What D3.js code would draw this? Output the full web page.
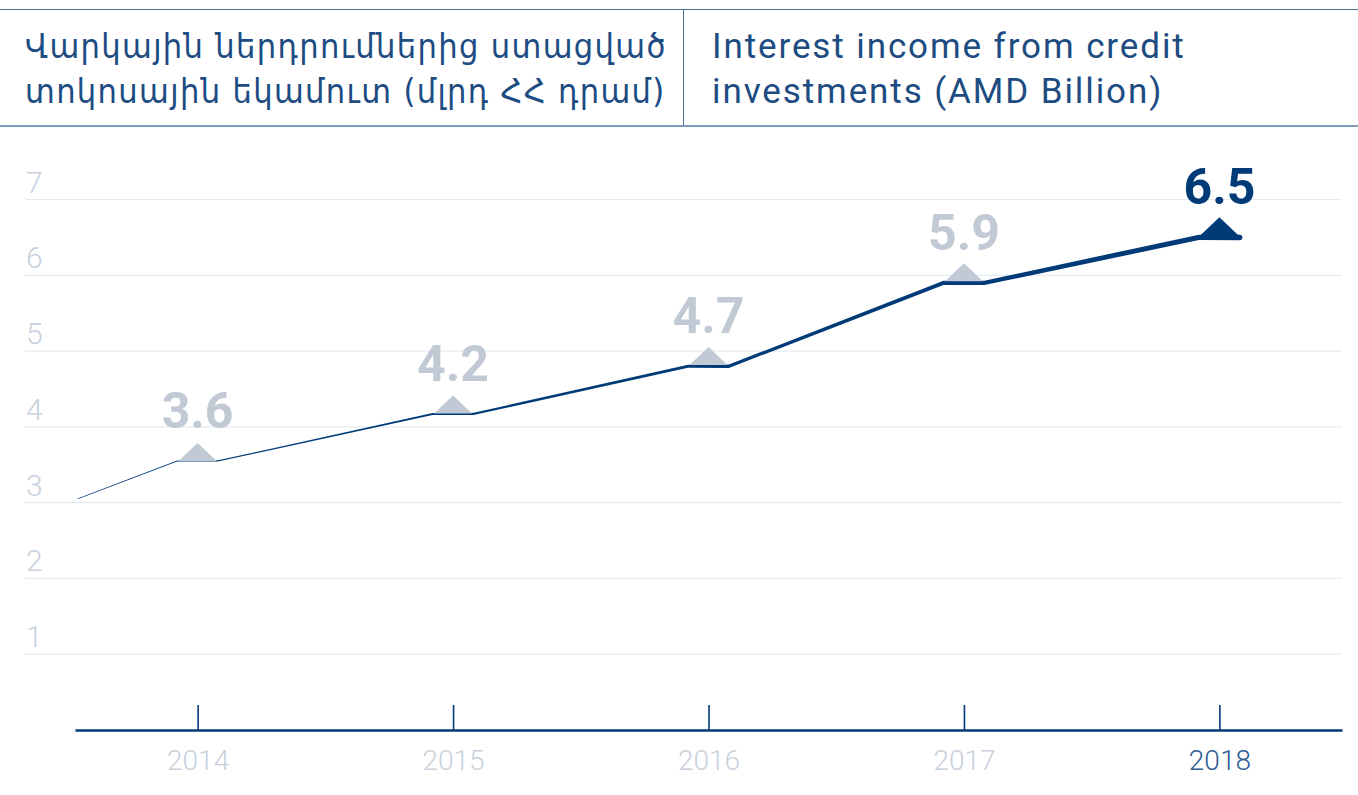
<!DOCTYPE html>
<html>
<head>
  <meta charset="utf-8">
  <title>Interest income from credit investments</title>
  <script src="https://d3js.org/d3.v7.min.js"></script>
  <style>
  body {
    margin: 0;
    background: #ffffff;
    font-family: Roboto, "DejaVu Sans", sans-serif;
  }
  .title-hy {
    font-family: "DejaVu Sans Condensed", "DejaVu Sans", sans-serif;
    fill: #1d4c82;
    letter-spacing: 1.35px;
  }
  .title-en {
    font-family: Roboto, sans-serif;
    fill: #1d4c82;
    letter-spacing: 1.9px;
  }
</style>
</head>
<body>
  <div id="chart"></div>
  <script>
    // data
    var years = [2014, 2015, 2016, 2017, 2018];
    var values = [3.55, 4.17, 4.8, 5.9, 6.5];          // where the line is drawn
    var valueLabels = ["3.6", "4.2", "4.7", "5.9", "6.5"]; // what is printed
    var leadIn = [2013.53, 3.05];   // where the line comes in from the left edge
    var yTicks = [1, 2, 3, 4, 5, 6, 7];
    var titleHy = ["Վարկային ներդրումներից ստացված", "տոկոսային եկամուտ (մլրդ ՀՀ դրամ)"];
    var titleEn = ["Interest income from credit", "investments (AMD Billion)"];

    var width = 1358, height = 795;
    var dark = "#003b78", grey = "#c0c9d4";

    var svg = d3.select("#chart").append("svg")
      .attr("width", width)
      .attr("height", height);

    // header
    svg.append("line").attr("x1", 0).attr("x2", width).attr("y1", 9.5).attr("y2", 9.5)
      .attr("stroke", "#4b6e95").attr("stroke-width", 1);
    svg.append("line").attr("x1", 0).attr("x2", width).attr("y1", 126).attr("y2", 126)
      .attr("stroke", "#7f9bbb").attr("stroke-width", 2);
    svg.append("line").attr("x1", 683.5).attr("x2", 683.5).attr("y1", 9).attr("y2", 125)
      .attr("stroke", "#4b6e95").attr("stroke-width", 1);

    svg.selectAll("text.title-hy").data(titleHy).enter().append("text")
      .attr("class", "title-hy")
      .attr("x", 25)
      .attr("y", function(d, i) { return 58 + i * 45; })
      .style("font-size", "34px")
      .text(function(d) { return d; });

    svg.selectAll("text.title-en").data(titleEn).enter().append("text")
      .attr("class", "title-en")
      .attr("x", 712)
      .attr("y", function(d, i) { return 58 + i * 45; })
      .style("font-size", "35px")
      .text(function(d) { return d; });

    // scales
    var x = d3.scaleLinear().domain([2013.52, 2018.48]).range([75, 1342]);
    var y = d3.scaleLinear().domain([0, 7]).range([730, 199.5]);

    // grid
    svg.append("g").selectAll("line").data(yTicks).enter().append("line")
      .attr("x1", 25).attr("x2", 1342)
      .attr("y1", function(d) { return y(d); })
      .attr("y2", function(d) { return y(d); })
      .attr("stroke", "#e6ebf1").attr("stroke-width", 1.2);

    svg.append("g").selectAll("text").data(yTicks).enter().append("text")
      .attr("x", 26)
      .attr("y", function(d) { return y(d) - 7; })
      .style("font-size", "30px")
      .style("font-weight", 300)
      .attr("fill", "#c8d1dc")
      .text(function(d) { return d; });

    // x axis
    var xAxis = svg.append("g")
      .attr("transform", "translate(0," + y(0) + ")")
      .call(d3.axisBottom(x).tickValues(years).tickFormat(d3.format("d")).tickSizeInner(-25).tickSizeOuter(0).tickPadding(20));
    xAxis.select(".domain").attr("stroke", dark).attr("stroke-width", 2.5);
    xAxis.selectAll(".tick line").attr("stroke", dark).attr("stroke-width", 1.6);
    xAxis.selectAll(".tick text")
      .style("font-family", "Roboto, sans-serif")
      .style("font-size", "28px")
      .style("font-weight", 300)
      .attr("fill", function(d, i) { return i === years.length - 1 ? "#2d5d92" : "#c8d1dc"; });

    // tapered line: flat step at each year, width growing left to right
    var half = 0.08; // half width of flat step in years
    var pts = [leadIn];
    years.forEach(function(yr, i) {
      pts.push([yr - half, values[i]]);
      pts.push([yr + half, values[i]]);
    });
    var x0 = x(leadIn[0]), x1 = x(years[years.length - 1] + half);
    var w = d3.scaleLinear().domain([x0, x1]).range([0.6, 5.5]);

    var area = d3.area()
      .x(function(d) { return x(d[0]); })
      .y0(function(d) { return y(d[1]) + w(x(d[0])) / 2; })
      .y1(function(d) { return y(d[1]) - w(x(d[0])) / 2; });

    svg.append("path")
      .datum(pts)
      .attr("d", area)
      .attr("fill", dark);
    // rounded end cap
    svg.append("circle")
      .attr("cx", x1).attr("cy", y(values[values.length - 1]))
      .attr("r", w(x1) / 2 - 0.2)
      .attr("fill", dark);

    // markers + labels
    var pt = svg.append("g").selectAll("g").data(years).enter().append("g")
      .attr("transform", function(d, i) { return "translate(" + x(d) + "," + y(values[i]) + ")"; });

    pt.append("path")
      .attr("d", function(d, i) {
        var base = -w(x(d)) / 2 + 0.5;
        return "M-19," + base + "L0," + (base - 18) + "L19," + base + "Z";
      })
      .attr("fill", function(d, i) { return i === years.length - 1 ? dark : grey; });

    pt.append("text")
      .attr("text-anchor", "middle")
      .attr("y", -33)
      .style("font-family", "Roboto, sans-serif")
      .style("font-size", "50px")
      .style("font-weight", 700)
      .attr("fill", function(d, i) { return i === years.length - 1 ? dark : grey; })
      .text(function(d, i) { return valueLabels[i]; });
  </script>
</body>
</html>
